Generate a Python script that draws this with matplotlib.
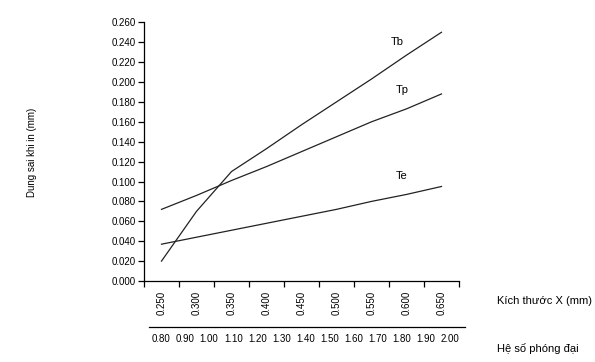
import matplotlib as mpl
mpl.use('Agg')
import matplotlib.pyplot as plt
import numpy as np

plt.rcParams['font.family'] = ['Liberation Sans', 'DejaVu Sans']

# Data
sizes = ['0.250', '0.300', '0.350', '0.400', '0.450', '0.500', '0.550', '0.600', '0.650']
tb = [0.020, 0.070, 0.110, 0.133, 0.157, 0.180, 0.203, 0.227, 0.250]
tp = [0.072, 0.086, 0.101, 0.115, 0.130, 0.145, 0.160, 0.173, 0.188]
te = [0.037, 0.044, 0.051, 0.058, 0.065, 0.072, 0.080, 0.087, 0.095]
mags = ['0.80', '0.90', '1.00', '1.10', '1.20', '1.30', '1.40', '1.50', '1.60',
        '1.70', '1.80', '1.90', '2.00']
yticks = np.arange(0, 0.261, 0.02)

W, H = 595, 362
fig = plt.figure(figsize=(W / 100, H / 100), dpi=100)

# main axes (pixel geometry)
x0, x1, ytop, ybot = 144, 459, 22.3, 281
ax = fig.add_axes([x0 / W, (H - ybot) / H, (x1 - x0) / W, (ybot - ytop) / H])
pos = np.arange(len(sizes)) + 0.5
for vals in (tb, tp, te):
    ax.plot(pos, vals, color='#222222', lw=0.9)
ax.set_xlim(0, len(sizes))
ax.set_ylim(0, 0.26)
ax.set_yticks(yticks)
ax.set_yticklabels(['%.3f' % v for v in yticks], fontsize=7)
ax.set_xticks(np.arange(len(sizes) + 1))
ax.set_xticklabels([])
ax.set_xticks(pos, minor=True)
ax.set_xticklabels(sizes, minor=True, rotation=90, fontsize=7)
ax.tick_params(axis='x', which='major', length=4, width=0.9, direction='out')
ax.tick_params(axis='x', which='minor', length=0, pad=7)
ax.tick_params(axis='y', length=4, width=0.9, direction='out', pad=2)
for s in ('top', 'right'):
    ax.spines[s].set_visible(False)
for s in ('left', 'bottom'):
    ax.spines[s].set_linewidth(0.9)

ax.text(7.05, 0.237, 'Tb', fontsize=8)
ax.text(7.2, 0.189, 'Tp', fontsize=8)
ax.text(7.2, 0.103, 'Te', fontsize=8)

# secondary magnification axis
ax2 = fig.add_axes([149 / W, (H - 327.3) / H, (465 - 149) / W, 0.001])
mpos = np.arange(len(mags))
ax2.set_xlim(-12 / 24.1, len(mags) - 1 + 15 / 24.1)
ax2.set_ylim(0, 1)
ax2.set_xticks(mpos)
ax2.set_xticklabels(mags, fontsize=7)
ax2.set_yticks([])
ax2.tick_params(axis='x', length=0, pad=5)
for s in ('top', 'right', 'left'):
    ax2.spines[s].set_visible(False)
ax2.spines['bottom'].set_linewidth(0.9)
ax2.patch.set_visible(False)

fig.text(497 / W, 1 - 301 / H, 'Kích thước X (mm)', fontsize=8, va='center')
fig.text(497 / W, 1 - 349 / H, 'Hệ số phóng đại', fontsize=8, va='center')
fig.text(32 / W, 1 - 152 / H, 'Dung sai khi in (mm)', fontsize=7, rotation=90,
         va='center', ha='center')

fig.savefig('out.png', dpi=100)
